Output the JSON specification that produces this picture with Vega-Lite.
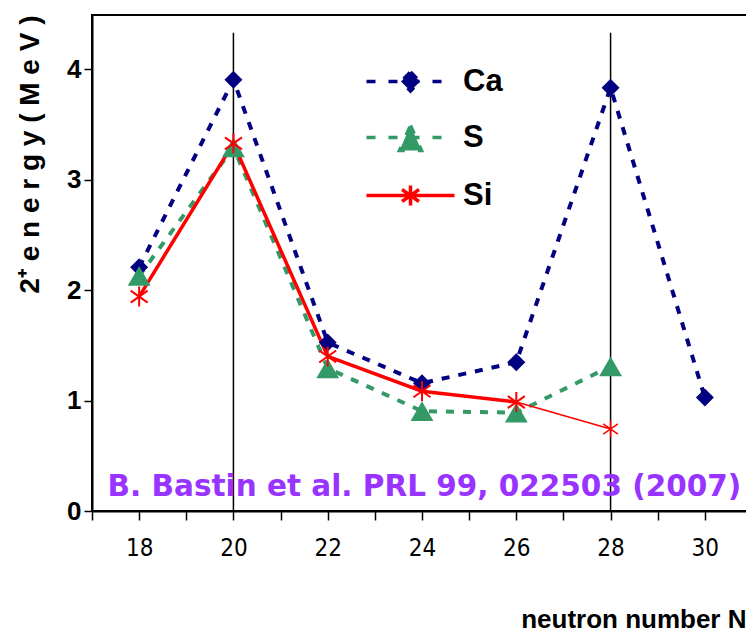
{
  "$schema": "https://vega.github.io/schema/vega-lite/v6.json",
  "autosize": {"type": "none"},
  "padding": {"left": 92, "top": 15, "right": 0, "bottom": 121},
  "width": 660,
  "height": 496,
  "background": "white",
  "config": {
    "view": {"stroke": "black", "strokeWidth": 2},
    "axis": {"grid": false, "domainColor": "black", "domainWidth": 2, "tickColor": "black", "tickWidth": 1.5, "labelColor": "black", "titleColor": "black"}
  },
  "datasets": {
    "energies": [
      {"N": 18, "E": 2.206, "nucleus": "Ca"},
      {"N": 20, "E": 3.904, "nucleus": "Ca"},
      {"N": 22, "E": 1.525, "nucleus": "Ca"},
      {"N": 24, "E": 1.157, "nucleus": "Ca"},
      {"N": 26, "E": 1.346, "nucleus": "Ca"},
      {"N": 28, "E": 3.832, "nucleus": "Ca"},
      {"N": 30, "E": 1.027, "nucleus": "Ca"},
      {"N": 18, "E": 2.128, "nucleus": "S"},
      {"N": 20, "E": 3.291, "nucleus": "S"},
      {"N": 22, "E": 1.292, "nucleus": "S"},
      {"N": 24, "E": 0.904, "nucleus": "S"},
      {"N": 26, "E": 0.89, "nucleus": "S"},
      {"N": 28, "E": 1.31, "nucleus": "S"},
      {"N": 18, "E": 1.941, "nucleus": "Si"},
      {"N": 20, "E": 3.328, "nucleus": "Si"},
      {"N": 22, "E": 1.399, "nucleus": "Si"},
      {"N": 24, "E": 1.084, "nucleus": "Si"},
      {"N": 26, "E": 0.986, "nucleus": "Si"},
      {"N": 28, "E": 0.742, "nucleus": "Si"}
    ],
    "magic": [{"N": 20}, {"N": 28}],
    "note": [{"label": "B. Bastin et al. PRL 99, 022503 (2007)"}]
  },
  "layer": [
    {
      "data": {"name": "magic"},
      "mark": {"type": "rule", "color": "black", "strokeWidth": 1.5},
      "encoding": {
        "x": {"field": "N", "type": "quantitative", "scale": {"domain": [17, 31], "nice": false, "zero": false},
          "axis": {
            "values": [17, 18, 19, 20, 21, 22, 23, 24, 25, 26, 27, 28, 29, 30, 31],
            "labelExpr": "datum.value % 2 == 0 && datum.value >= 18 && datum.value <= 30 ? datum.label : ''",
            "tickSize": 9, "labelPadding": 16, "labelFont": "Liberation Sans Narrow, DejaVu Sans Condensed, Liberation Sans", "labelFontSize": 24, "labelFontWeight": "normal", "labelFlush": false,
            "title": "neutron number N", "titleAnchor": "end", "titleAlign": "right", "titleX": 654, "titleY": 116, "titleBaseline": "alphabetic",
            "titleFont": "Liberation Sans", "titleFontSize": 26, "titleFontWeight": "bold"
          }},
        "y": {"datum": 0, "type": "quantitative", "scale": {"domain": [0, 4.49], "nice": false},
          "axis": {
            "values": [0, 1, 2, 3, 4], "format": "d", "tickSize": 8, "labelPadding": 3, "labelFont": "Liberation Sans", "labelFontSize": 26, "labelFontWeight": "bold", "labelFlush": false,
            "title": "2⁺ e n e r g y  ( M e V )", "titleAnchor": "end", "titleAlign": "right", "titleAngle": -90, "titleX": -62, "titleY": 0, "titleBaseline": "middle",
            "titleFont": "Liberation Sans", "titleFontSize": 28, "titleFontWeight": "bold"
          }},
        "y2": {"datum": 4.33}
      }
    },
    {
      "data": {"name": "energies"},
      "transform": [{"filter": "datum.nucleus === 'Ca'"}],
      "mark": {"type": "line", "color": "#000080", "strokeWidth": 4, "strokeDash": [8, 9]},
      "encoding": {"x": {"field": "N", "type": "quantitative"}, "y": {"field": "E", "type": "quantitative"}}
    },
    {
      "data": {"name": "energies"},
      "transform": [{"filter": "datum.nucleus === 'S'"}],
      "mark": {"type": "line", "color": "#339966", "strokeWidth": 4, "strokeDash": [8, 9]},
      "encoding": {"x": {"field": "N", "type": "quantitative"}, "y": {"field": "E", "type": "quantitative"}}
    },
    {
      "data": {"name": "energies"},
      "transform": [{"filter": "datum.nucleus === 'Si' && datum.N <= 26"}],
      "mark": {"type": "line", "color": "#ff0000", "strokeWidth": 3.5},
      "encoding": {"x": {"field": "N", "type": "quantitative"}, "y": {"field": "E", "type": "quantitative"}}
    },
    {
      "data": {"name": "energies"},
      "transform": [{"filter": "datum.nucleus === 'Si' && datum.N >= 26"}],
      "mark": {"type": "line", "color": "#ff0000", "strokeWidth": 1.5},
      "encoding": {"x": {"field": "N", "type": "quantitative"}, "y": {"field": "E", "type": "quantitative"}}
    },
    {
      "data": {"name": "energies"},
      "transform": [{"filter": "datum.nucleus === 'Ca'"}],
      "mark": {"type": "point", "shape": "diamond", "filled": true, "color": "#000080", "size": 324, "opacity": 1},
      "encoding": {"x": {"field": "N", "type": "quantitative"}, "y": {"field": "E", "type": "quantitative"}}
    },
    {
      "data": {"name": "energies"},
      "transform": [{"filter": "datum.nucleus === 'S'"}],
      "mark": {"type": "point", "shape": "triangle-up", "filled": true, "color": "#339966", "size": 520, "opacity": 1},
      "encoding": {"x": {"field": "N", "type": "quantitative"}, "y": {"field": "E", "type": "quantitative"}}
    },
    {
      "data": {"name": "energies"},
      "transform": [{"filter": "datum.nucleus === 'Si' && datum.N <= 26"}],
      "mark": {"type": "point", "shape": "M0,-1L0,1M-0.85,-0.6L0.85,0.6M-0.85,0.6L0.85,-0.6", "filled": false, "color": "#ff0000", "strokeWidth": 2, "size": 400, "opacity": 1},
      "encoding": {"x": {"field": "N", "type": "quantitative"}, "y": {"field": "E", "type": "quantitative"}}
    },
    {
      "data": {"name": "energies"},
      "transform": [{"filter": "datum.nucleus === 'Si' && datum.N == 28"}],
      "mark": {"type": "point", "shape": "M0,-1L0,1M-0.85,-0.6L0.85,0.6M-0.85,0.6L0.85,-0.6", "filled": false, "color": "#ff0000", "strokeWidth": 1.5, "size": 300, "opacity": 1},
      "encoding": {"x": {"field": "N", "type": "quantitative"}, "y": {"field": "E", "type": "quantitative"}}
    },
    {
      "data": {"name": "energies"},
      "mark": {"type": "point", "opacity": 0},
      "encoding": {
        "x": {"field": "N", "type": "quantitative"},
        "y": {"field": "E", "type": "quantitative"},
        "fill": {"field": "nucleus", "type": "nominal", "scale": {"domain": ["Ca", "S", "Si"], "range": ["#000080", "#339966", "transparent"]}},
        "stroke": {"field": "nucleus", "type": "nominal", "scale": {"domain": ["Ca", "S", "Si"], "range": ["#000080", "#339966", "#ff0000"]}},
        "strokeDash": {"field": "nucleus", "type": "nominal", "scale": {"domain": ["Ca", "S", "Si"], "range": [[9, 13], [9, 13], [1, 0]]}},
        "shape": {"field": "nucleus", "type": "nominal",
          "scale": {"domain": ["Ca", "S", "Si"], "range": [
            "M-4.4,0L4.4,0M0,-0.95L0.95,0L0,0.95L-0.95,0Z",
            "M-4.4,0L4.4,0M0,-1.2L1.1,1.3L-1.1,1.3Z",
            "M-4.4,0L4.4,0M0,-1L0,1M-0.85,-0.6L0.85,0.6M-0.85,0.6L0.85,-0.6"
          ]},
          "legend": {
            "title": null, "orient": "none", "legendX": 303, "legendY": 51, "padding": 0,
            "symbolSize": 400, "symbolOpacity": 1, "symbolStrokeWidth": 3.5, "labelOffset": 37, "rowPadding": 20,
            "labelFont": "Liberation Sans", "labelFontSize": 31, "labelFontWeight": "bold", "labelColor": "black"
          }}
      }
    },
    {
      "data": {"name": "note"},
      "mark": {"type": "text", "align": "left", "baseline": "middle", "color": "#9933ff", "font": "DejaVu Sans", "fontSize": 29.5, "fontWeight": "bold"},
      "encoding": {"x": {"datum": 17.33, "type": "quantitative"}, "y": {"datum": 0.22, "type": "quantitative"}, "text": {"field": "label"}}
    }
  ]
}
